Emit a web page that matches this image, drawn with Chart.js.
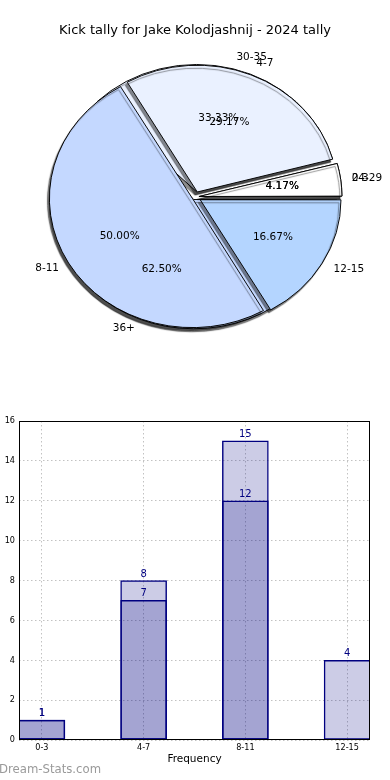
<!DOCTYPE html>
<html>
<head>
<meta charset="utf-8">
<script src="https://cdn.jsdelivr.net/npm/chart.js@4.4.0/dist/chart.umd.min.js"></script>
<style>
  html, body { margin: 0; padding: 0; background: #fff; }
  #wrap { position: relative; width: 390px; height: 780px; overflow: hidden; }
  .box { position: absolute; left: 0; width: 390px; }
  #pieBoxB, #pieBoxA { top: 0; height: 400px; }
  #barBox { top: 400px; height: 380px; }
</style>
</head>
<body>
<div id="wrap">
  <div class="box" id="pieBoxB"><canvas id="pieB"></canvas></div>
  <div class="box" id="pieBoxA"><canvas id="pieA"></canvas></div>
  <div class="box" id="barBox"><canvas id="barChart"></canvas></div>
</div>
<script>
const chartTitle = 'Kick tally for Jake Kolodjashnij - 2024 tally';

// pie 1 (drawn on top) and pie 2 (underneath)
const pieLabelsA = ['0-3', '4-7', '8-11', '12-15'];
const pieValuesA = [1, 7, 12, 4];
const pieLabelsB = ['24-29', '30-35', '36+'];
const pieValuesB = [1, 8, 15];

// bar chart
const barCategories = ['0-3', '4-7', '8-11', '12-15'];
const barValuesA = [1, 7, 12, 4];
const barValuesB = [1, 8, 15];
const yTicks = [0, 2, 4, 6, 8, 10, 12, 14, 16];
const xTitle = 'Frequency';
const watermark = 'Dream-Stats.com';

const sliceColors = ['#ffffff', '#eaf1ff', '#c4d8ff', '#b4d5ff'];
const FONT = 'DejaVu Sans';
const TICK_FONT = "'Liberation Sans Narrow', 'DejaVu Sans Condensed', 'DejaVu Sans'";

// pie geometry (picture is a bit squashed vertically)
const CX = 195, CY = 197, R = 140, KY = 0.904;

const pieCharts = [];

function drawPieLabels(ctx, chart) {
  const ds = chart.data.datasets[0];
  const total = ds.data.reduce((a, b) => a + b, 0);
  ctx.save();
  ctx.fillStyle = '#000';
  ctx.font = '10.5px ' + FONT;
  ctx.textBaseline = 'middle';
  chart.getDatasetMeta(0).data.forEach((arc, i) => {
    const mid = (arc.startAngle + arc.endAngle) / 2;
    const shift = (arc.options.offset || 0) / 4;
    const c = Math.cos(mid), s = Math.sin(mid);
    const dl = 1.1 * R + shift;
    ctx.textAlign = c >= 0 ? 'left' : 'right';
    ctx.fillText(chart.data.labels[i], CX + c * dl, CY + s * dl * KY);
    const dp = 0.6 * R + shift;
    ctx.textAlign = 'center';
    const pct = (ds.data[i] / total * 100).toFixed(2) + '%';
    ctx.fillText(pct, CX + c * dp, CY + s * dp * KY);
  });
  ctx.restore();
}

const pieLook = {
  id: 'pieLook',
  beforeDatasetsDraw(chart) {
    const arc = chart.getDatasetMeta(0).data[0];
    const ctx = chart.ctx;
    ctx.save();
    ctx.translate(CX, CY);
    ctx.scale(1, KY);
    ctx.translate(-arc.x, -arc.y);
    ctx.shadowColor = 'rgba(0,0,0,0.45)';
    ctx.shadowOffsetX = -2;
    ctx.shadowOffsetY = 3;
    ctx.shadowBlur = 1;
  },
  afterDatasetsDraw(chart) {
    chart.ctx.restore();
    // the top pie writes the labels of every pie so none get covered
    if (chart.options.plugins.title.display) {
      pieCharts.forEach(p => drawPieLabels(chart.ctx, p));
    }
  }
};

function makePie(id, labels, values, explode, showTitle) {
  // matplotlib runs counter-clockwise from 3 o'clock, Chart.js clockwise -> reverse order
  const colors = sliceColors.slice(0, values.length);
  const ch = new Chart(document.getElementById(id), {
    type: 'pie',
    data: {
      labels: labels.slice().reverse(),
      datasets: [{
        data: values.slice().reverse(),
        backgroundColor: colors.reverse(),
        borderColor: '#000',
        borderWidth: 1,
        offset: explode.slice().reverse().map(e => e * 4),
        rotation: 90,
        radius: R,
        clip: false
      }]
    },
    options: {
      responsive: true,
      maintainAspectRatio: false,
      animation: false,
      events: [],
      rotation: 90,
      radius: R,
      plugins: {
        legend: { display: false },
        tooltip: { enabled: false },
        title: {
          display: showTitle,
          text: chartTitle,
          color: '#000',
          font: { family: FONT, size: 13, weight: 'normal' },
          padding: { top: 23, bottom: 0 }
        }
      }
    },
    plugins: [pieLook]
  });
  pieCharts.push(ch);
  return ch;
}

makePie('pieB', pieLabelsB, pieValuesB, [4, 6, 3], false);
const topPie = makePie('pieA', pieLabelsA, pieValuesA, [4, 6, 3, 6], true);
topPie.update();

const frame = {
  id: 'frame',
  afterDatasetsDraw(chart) {
    const a = chart.chartArea;
    const ctx = chart.ctx;
    ctx.save();
    ctx.strokeStyle = '#000';
    ctx.lineWidth = 1;
    ctx.strokeRect(Math.round(a.left) + 0.5, Math.round(a.top) + 0.5,
      Math.round(a.right - a.left) - 1, Math.round(a.bottom - a.top) - 1);
    ctx.restore();
  }
};

const valueLabels = {
  id: 'valueLabels',
  afterDatasetsDraw(chart) {
    const ctx = chart.ctx;
    ctx.save();
    ctx.fillStyle = '#000080';
    ctx.font = '10px ' + FONT;
    ctx.textAlign = 'center';
    ctx.textBaseline = 'alphabetic';
    chart.data.datasets.forEach((ds, d) => {
      chart.getDatasetMeta(d).data.forEach((bar, i) => {
        ctx.fillText(String(ds.data[i].y), bar.x, bar.y - 4);
      });
    });
    ctx.restore();
  },
  afterDraw(chart) {
    const ctx = chart.ctx;
    ctx.save();
    ctx.fillStyle = '#9a9a9a';
    ctx.font = '11.7px ' + FONT;
    ctx.textAlign = 'left';
    ctx.textBaseline = 'middle';
    ctx.fillText(watermark, -1, 370);
    ctx.restore();
  }
};

const barStyle = {
  backgroundColor: 'rgba(0,0,128,0.2)',
  borderColor: '#000080',
  borderWidth: 0.8,
  borderSkipped: false,
  barThickness: 46,
  grouped: false
};

new Chart(document.getElementById('barChart'), {
  type: 'bar',
  data: {
    datasets: [
      Object.assign({ label: 'A', data: barValuesA.map((v, i) => ({ x: i, y: v })) }, barStyle),
      Object.assign({ label: 'B', data: barValuesB.map((v, i) => ({ x: i, y: v })) }, barStyle)
    ]
  },
  options: {
    responsive: true,
    maintainAspectRatio: false,
    animation: false,
    events: [],
    layout: { padding: { top: 21, right: 20, left: 0, bottom: 0 } },
    scales: {
      x: {
        type: 'linear',
        offset: false,
        min: -0.225,
        max: 3.225,
        afterBuildTicks: s => { s.ticks = barCategories.map((c, i) => ({ value: i })); },
        afterFit: s => { s.height = 40; },
        ticks: {
          callback: v => barCategories[v],
          color: '#000',
          font: { family: TICK_FONT, size: 9 },
          padding: 2,
          maxRotation: 0,
          autoSkip: false
        },
        grid: { color: '#c2c2c2', lineWidth: 1, drawTicks: false, offset: false },
        border: { display: false, dash: [1.5, 2.5] },
        title: {
          display: true,
          text: xTitle,
          color: '#000',
          font: { family: FONT, size: 10.5 },
          padding: { top: 0, bottom: 14 }
        }
      },
      y: {
        min: 0,
        max: 16,
        afterBuildTicks: s => { s.ticks = yTicks.map(v => ({ value: v })); },
        afterFit: s => { s.width = 19; },
        ticks: {
          color: '#000',
          font: { family: TICK_FONT, size: 9 },
          padding: 4
        },
        grid: { color: '#c2c2c2', lineWidth: 1, drawTicks: false },
        border: { display: false, dash: [1.5, 2.5] }
      }
    },
    plugins: {
      legend: { display: false },
      tooltip: { enabled: false }
    }
  },
  plugins: [frame, valueLabels]
});
</script>
</body>
</html>
